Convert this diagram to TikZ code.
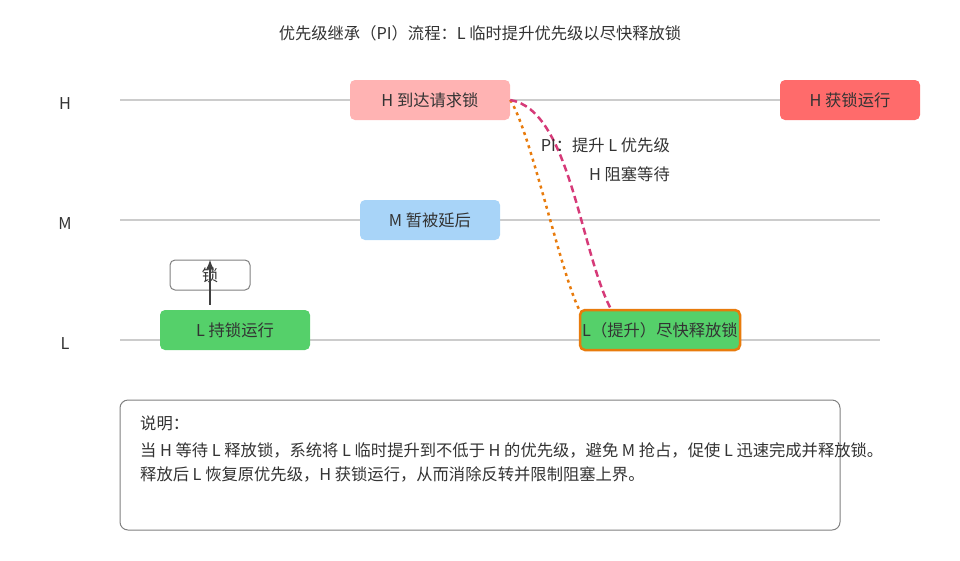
\documentclass[tikz,border=0pt]{standalone}
\usepackage{fontspec}
\setmainfont{Noto Sans CJK SC}
\usetikzlibrary{positioning,arrows.meta}
\definecolor{lineGray}{HTML}{CCCCCC}
\definecolor{hPink}{HTML}{FFB3B3}
\definecolor{hRed}{HTML}{FF6B6B}
\definecolor{mBlue}{HTML}{A8D4F8}
\definecolor{lGreen}{HTML}{55D06A}
\definecolor{bOrange}{HTML}{E87B0C}
\definecolor{pMagenta}{HTML}{D63A78}
\definecolor{txt}{HTML}{333333}
\tikzset{
	lane/.style={draw=lineGray, line width=1.5pt},
	task/.style={rounded corners=5pt, minimum height=40pt, inner sep=0pt, text=txt},
	lbl/.style={text=txt, inner sep=0pt}
}
\begin{document}
\begin{tikzpicture}[x=1pt, y=-1pt, font=\fontsize{16.3}{18}\selectfont]
	\useasboundingbox (0,0) rectangle (960,560);
	\node[lbl] (title) at (480,33) {优先级继承（PI）流程：L 临时提升优先级以尽快释放锁};
	% priority lanes
	\foreach \nm/\y in {H/100, M/220, L/340}{
		\draw[lane] (120,\y) -- (880,\y);
		\node[lbl] (lane\nm) at (65,\y+4) {\nm};
	}
	% tasks
	\node[task, fill=hPink, minimum width=160pt] (harrive) at (430,100) {H 到达请求锁};
	\node[task, fill=hRed, minimum width=140pt] (hrun) at (850,100) {H 获锁运行};
	\node[task, fill=mBlue, minimum width=140pt] (mdelay) at (430,220) {M 暂被延后};
	\node[task, fill=lGreen, minimum width=150pt] (lhold) at (235,330) {L 持锁运行};
	\node[task, fill=lGreen, draw=bOrange, line width=2.5pt, minimum width=160pt, minimum height=40pt] (lboost) at (660,330) {L（提升）尽快释放锁};
	\node[draw=gray, line width=1pt, rounded corners=5pt, minimum width=80pt, minimum height=30pt, inner sep=0pt, text=txt] (lock) at (210,275) {锁};
	\draw[-{Latex[length=10pt,width=8pt]}, draw=darkgray, fill=darkgray, line width=1.5pt] (lhold.north -| lock) ++(0,-5) coordinate (lockfoot) (lockfoot) -- (lock.north);
	% inheritance
	\draw[bOrange, line width=2.5pt, dash pattern=on 3pt off 4pt] (harrive.east) .. controls (530,130) and (560,270) .. (lboost.north west);
	\draw[pMagenta, line width=2.5pt, dash pattern=on 7pt off 4pt] (harrive.east) .. controls (570,110) and (580,250) .. ([xshift=32pt]lboost.north west);
	\node[lbl, anchor=east] (pinote) at (670,145) {PI：提升 L 优先级};
	\node[lbl, anchor=east] (hwait) at (670,174) {H 阻塞等待};
	% note
	\draw[draw=gray, line width=1pt, rounded corners=8pt] (120,400) rectangle (840,530);
	\node[lbl, anchor=west] (note1) at (140,423) {说明：};
	\node[lbl, anchor=west] (note2) at (140,450) {当 H 等待 L 释放锁，系统将 L 临时提升到不低于 H 的优先级，避免 M 抢占，促使 L 迅速完成并释放锁。};
	\node[lbl, anchor=west] (note3) at (140,474) {释放后 L 恢复原优先级，H 获锁运行，从而消除反转并限制阻塞上界。};
\end{tikzpicture}
\end{document}
